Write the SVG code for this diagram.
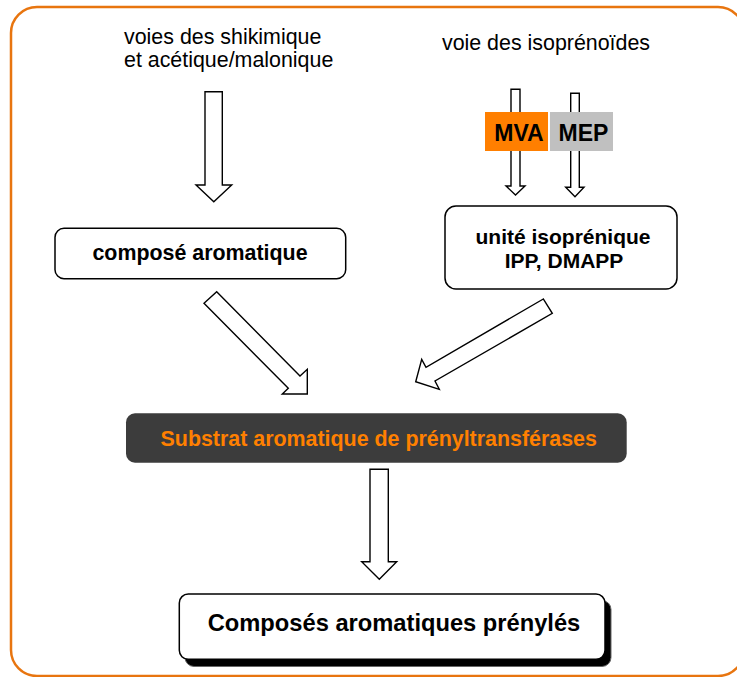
<svg xmlns="http://www.w3.org/2000/svg" width="737" height="677" viewBox="0 0 737 677">
<style>
.t{font-family:"Liberation Sans",Arial,sans-serif;fill:#000}
.b{font-weight:bold}
.box{fill:#fff;stroke:#000;stroke-width:1.5}
.arr{fill:#fff;stroke:#000;stroke-width:1.4;stroke-linejoin:miter}
</style>
<rect x="11" y="7" width="733" height="669" rx="26" fill="#fff" stroke="#E8750F" stroke-width="2.5"/>
<g id="label-aromatic-pathways">
<text class="t" x="124" y="44" font-size="21.4">voies des shikimique</text>
<text class="t" x="124" y="66.7" font-size="21.4">et acétique/malonique</text>
</g>
<g id="label-isoprenoid-pathway">
<text class="t" x="546" y="50" font-size="21.4" text-anchor="middle">voie des isoprénoïdes</text>
</g>
<g id="connectors">
<polygon class="arr" points="205,91.7 222.3,91.7 222.3,185 231.7,185 213.8,201.7 196,185 205,185"/>
<polygon class="arr" points="511,89.3 520,89.3 520,186 525,186 515.5,195 506,186 511,186"/>
<polygon class="arr" points="570.7,93.3 579.3,93.3 579.3,187.3 584,187.3 575,196.7 565.7,187.3 570.7,187.3"/>
<polygon class="arr" points="216.7,291.7 300,376 307.3,369.3 307.3,394 282.3,394 288.3,388.3 204,303.3"/>
<polygon class="arr" points="543.3,299 426,367.3 421.7,359.3 415.7,381.7 439.3,389.3 435,381 552.3,313.3"/>
<polygon class="arr" points="370,469.3 388.3,469.3 388.3,561.7 396.7,561.7 379.3,579.3 361.7,561.7 370,561.7"/>
</g>
<g id="node-mva">
<rect x="485" y="112" width="63" height="39" fill="#FF7F00"/>
<text class="t b" x="519" y="141" font-size="23" text-anchor="middle">MVA</text>
</g>
<g id="node-mep">
<rect x="550" y="112" width="63" height="39" fill="#C0C0C0"/>
<text class="t b" x="583.5" y="141" font-size="23" text-anchor="middle">MEP</text>
</g>
<g id="node-compose-aromatique">
<rect class="box" x="55" y="228.3" width="290.7" height="50.4" rx="9"/>
<text class="t b" x="200" y="260" font-size="21.4" text-anchor="middle">composé aromatique</text>
</g>
<g id="node-unite-isoprenique">
<rect class="box" x="445" y="206" width="232" height="83" rx="11"/>
<text class="t b" x="563" y="244" font-size="21" text-anchor="middle">unité isoprénique</text>
<text class="t b" x="564" y="268" font-size="21" text-anchor="middle">IPP, DMAPP</text>
</g>
<g id="node-substrat">
<rect x="126" y="413.3" width="500.7" height="49.4" rx="9" fill="#3C3C3C"/>
<text class="t b" x="378.7" y="445.7" font-size="21.4" text-anchor="middle" style="fill:#FF8000">Substrat aromatique de prényltransférases</text>
</g>
<g id="node-composes-prenyles">
<rect x="185" y="600.5" width="426" height="66" rx="9" fill="#000" stroke="#666" stroke-width="1"/>
<rect class="box" x="179.3" y="594" width="425.7" height="65.3" rx="9"/>
<text class="t b" x="394" y="631" font-size="23.7" text-anchor="middle">Composés aromatiques prénylés</text>
</g>
</svg>
